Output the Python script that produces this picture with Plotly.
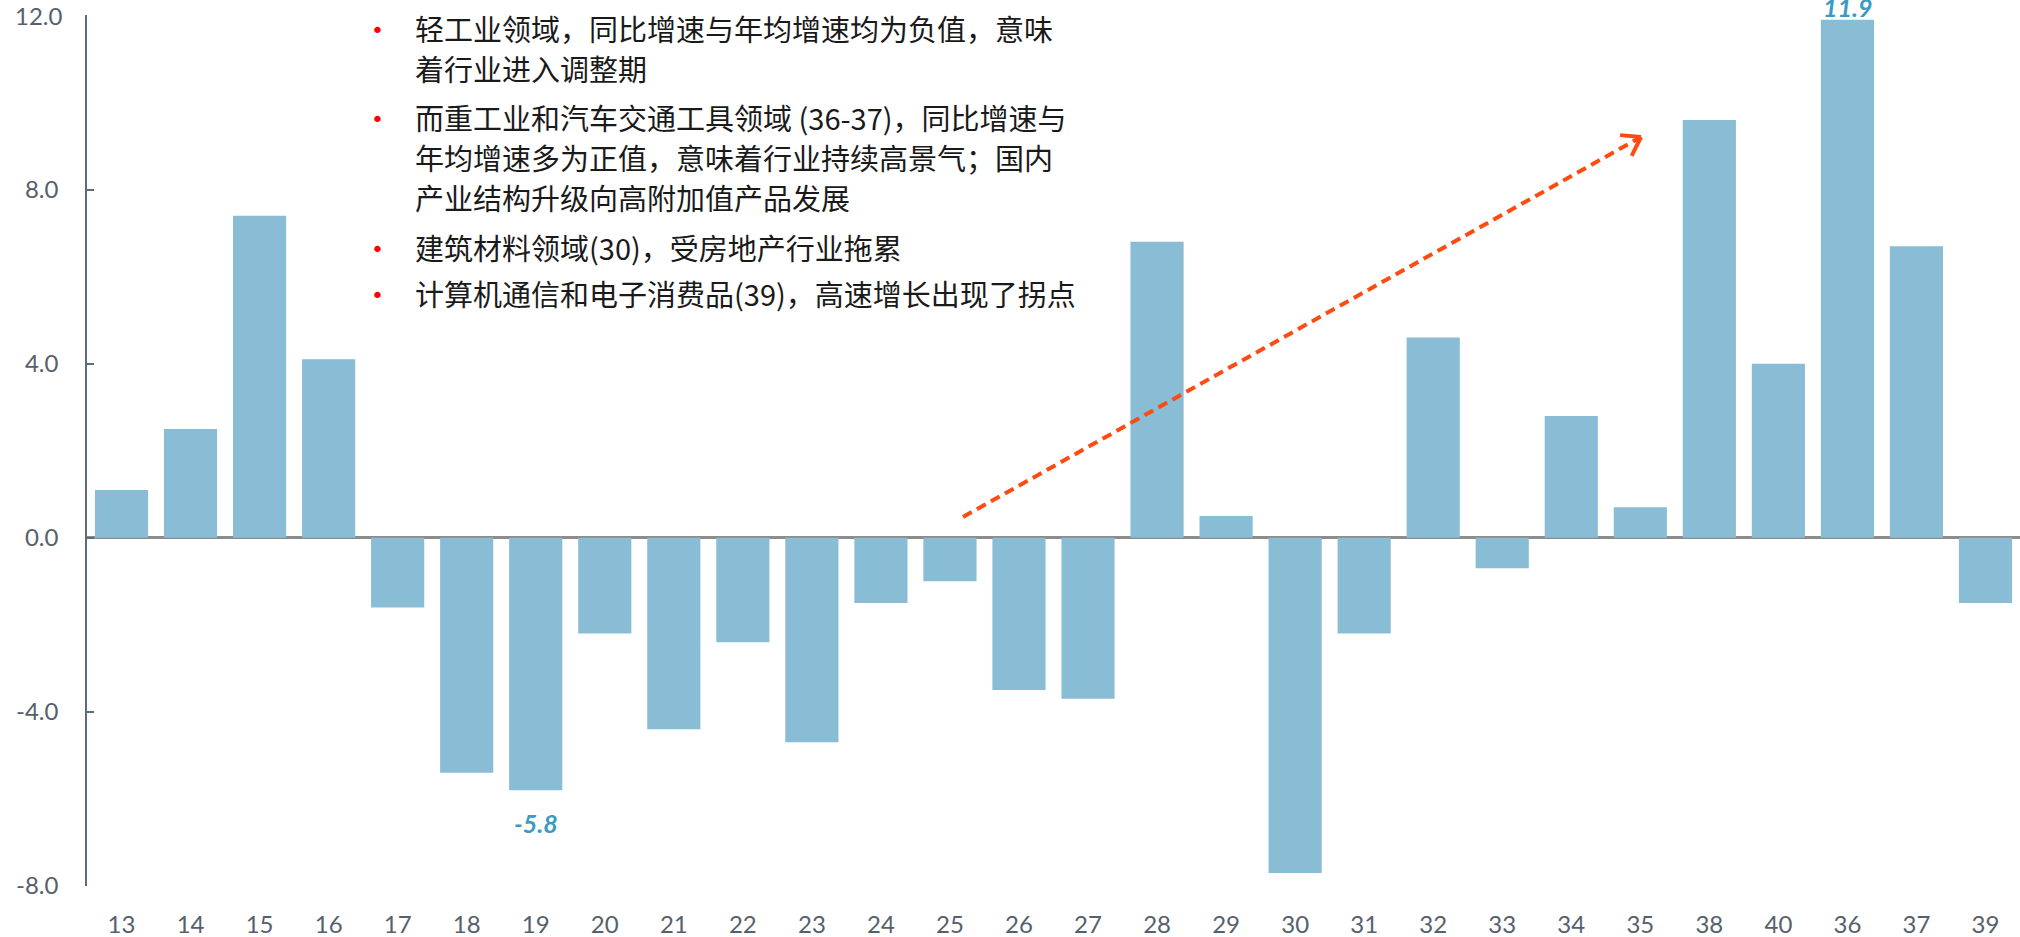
import math
import plotly.graph_objects as go

# industry codes (x axis order as in the source chart) and growth values
categories = ["13", "14", "15", "16", "17", "18", "19", "20", "21", "22", "23", "24",
              "25", "26", "27", "28", "29", "30", "31", "32", "33", "34", "35",
              "38", "40", "36", "37", "39"]
values = [1.1, 2.5, 7.4, 4.1, -1.6, -5.4, -5.8, -2.2, -4.4, -2.4, -4.7, -1.5,
          -1.0, -3.5, -3.7, 6.8, 0.5, -7.7, -2.2, 4.6, -0.7, 2.8, 0.7,
          9.6, 4.0, 11.9, 6.7, -1.5]

# highlighted data labels
label_cats = ["19", "36"]
label_vals = [-5.8, 11.9]

y_ticks = [-8, -4, 0, 4, 8, 12]
y_ticktext = [f"{v:.1f}" for v in y_ticks]

# comment block, one list per bullet
notes = [
    ["轻工业领域，同比增速与年均增速均为负值，意味", "着行业进入调整期"],
    ["而重工业和汽车交通工具领域 (36-37)，同比增速与", "年均增速多为正值，意味着行业持续高景气；国内", "产业结构升级向高附加值产品发展"],
    ["建筑材料领域(30)，受房地产行业拖累"],
    ["计算机通信和电子消费品(39)，高速增长出现了拐点"],
]

W, H = 2020, 937
L, R, T, B = 87, 0, 15, 51
PW, PH = W - L - R, H - T - B


def px(x):
    return (x - L) / PW


def py(y):
    return (H - B - y) / PH


BAR = "#89BCD5"
AXIS = "#5D6B7A"
LABEL = "#3A9AC2"
TICKFONT = dict(family="Lato, Open Sans, sans-serif", size=24, color="#56606C")
CJK = "Noto Sans CJK SC"

fig = go.Figure()
fig.add_trace(go.Bar(x=categories, y=values, marker_color=BAR, marker_line_width=0))

annotations = []
for c, v in zip(label_cats, label_vals):
    # category axes take the position index for annotations
    annotations.append(dict(
        x=categories.index(c), y=v, xref="x", yref="y", showarrow=False,
        text=f"<b><i>{v:.1f}</i></b>",
        font=dict(family="Lato, sans-serif", size=25, color=LABEL),
        yanchor="bottom" if v > 0 else "top",
        yshift=-4 if v > 0 else -16,
    ))

# plotly drops the top tick label at the paper edge, so draw it by hand
annotations.append(dict(
    x=0, y=y_ticks[-1], xref="paper", yref="y", showarrow=False,
    text=y_ticktext[-1], xanchor="right", yanchor="middle", xshift=-22,
    font=TICKFONT,
))
y_ticktext[-1] = ""

# text lines of the note block
line_y = [28, 68, 117, 157, 197, 247, 293]
k = 0
for para in notes:
    for j, line in enumerate(para):
        if j == 0:
            annotations.append(dict(
                x=px(377), y=py(line_y[k] + 2), xref="paper", yref="paper",
                text="•", showarrow=False, xanchor="center", yanchor="middle",
                font=dict(family="DejaVu Sans", size=22, color="#FF0000"),
            ))
        annotations.append(dict(
            x=px(413), y=py(line_y[k]), xref="paper", yref="paper",
            text=line, showarrow=False, xanchor="left", yanchor="middle",
            font=dict(family=CJK, size=29, color="#1A1A1A"),
        ))
        k += 1

# dashed trend arrow
ARROW = "#FF4A12"
x0, y0, x1, y1 = 963, 517, 1641, 137
shapes = [dict(type="line", xref="paper", yref="paper",
               x0=px(x0), y0=py(y0), x1=px(x1), y1=py(y1),
               line=dict(color=ARROW, width=4, dash="10px,6px"))]
ang = math.atan2(y0 - y1, x0 - x1)
for d in (-0.6, 0.6):
    ex = x1 + 21 * math.cos(ang + d)
    ey = y1 + 21 * math.sin(ang + d)
    shapes.append(dict(type="line", xref="paper", yref="paper",
                       x0=px(x1), y0=py(y1), x1=px(ex), y1=py(ey),
                       line=dict(color=ARROW, width=4)))

fig.update_layout(
    width=W, height=H,
    margin=dict(l=L, r=R, t=T, b=B, pad=0),
    plot_bgcolor="white", paper_bgcolor="white",
    showlegend=False, bargap=0.23,
    annotations=annotations, shapes=shapes,
)
fig.update_xaxes(
    type="category", showgrid=False, showline=False, ticks="",
    tickfont=TICKFONT, ticklabelstandoff=22,
)
fig.update_yaxes(
    range=[-8, 12.01], tickvals=y_ticks, ticktext=y_ticktext,
    showgrid=False, showline=True, linecolor=AXIS, linewidth=1.5,
    ticks="inside", ticklen=7, tickcolor=AXIS, tickwidth=1.5,
    tickfont=TICKFONT, ticklabelstandoff=22,
    zeroline=True, zerolinecolor="#8C8C8C", zerolinewidth=3,
)

fig.write_html("out.html", config={"displayModeBar": False},
               post_script="document.body.style.margin='0';")
